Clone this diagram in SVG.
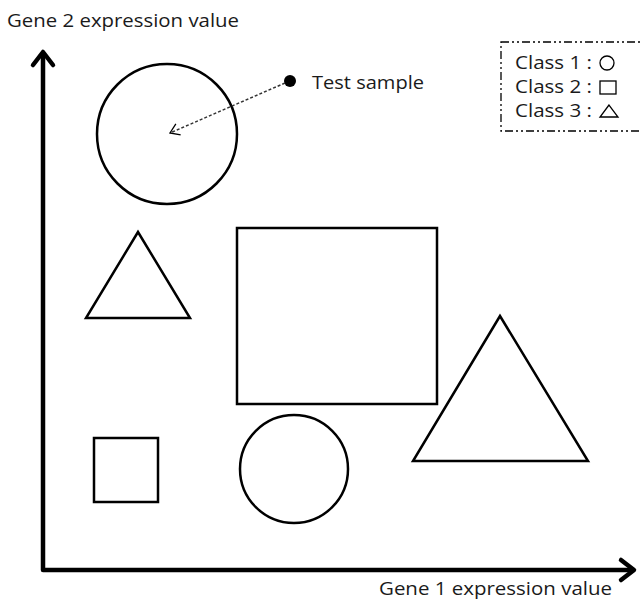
<svg xmlns="http://www.w3.org/2000/svg" width="640" height="601" viewBox="0 0 640 601">
<defs>
<style>
text{font-family:"Open Sans","Noto Sans",sans-serif;fill:#1a1a1a;font-size:19px}
.leg{font-size:17.5px}
.shape{fill:none;stroke:#000;stroke-width:2.5}
.axis{fill:none;stroke:#000;stroke-width:4.5;stroke-linecap:round;stroke-linejoin:round}
.sym{fill:none;stroke:#000;stroke-width:1.3}
</style>
<marker id="open" markerWidth="14" markerHeight="14" refX="10" refY="7" orient="auto" markerUnits="userSpaceOnUse">
<path d="M1,1 L10,7 L1,13" fill="none" stroke="#000" stroke-width="1.3"/>
</marker>
</defs>
<rect width="640" height="601" fill="#fff"/>
<g id="axes">
<path class="axis" d="M43,54 L43,570 L633,570"/>
<path class="axis" d="M33,65 L43,52 L53,65"/>
<path class="axis" d="M621,560 L634,570 L621,580"/>
<text x="7" y="27" textLength="232" lengthAdjust="spacingAndGlyphs">Gene 2 expression value</text>
<text x="379" y="595" textLength="233" lengthAdjust="spacingAndGlyphs">Gene 1 expression value</text>
</g>
<g id="circle1"><circle class="shape" cx="167" cy="134" r="70"/></g>
<g id="triangle1"><polygon class="shape" points="138,232 86,318 190,318"/></g>
<g id="square1"><rect class="shape" x="237" y="228" width="200" height="176"/></g>
<g id="triangle2"><polygon class="shape" points="500,316 413,461 588,461"/></g>
<g id="square2"><rect class="shape" x="94" y="438" width="64" height="64"/></g>
<g id="circle2"><circle class="shape" cx="294" cy="469" r="54"/></g>
<g id="test-sample">
<circle cx="290" cy="81" r="6" fill="#000"/>
<text x="312" y="89" textLength="112" lengthAdjust="spacingAndGlyphs">Test sample</text>
</g>
<g id="connectors">
<line x1="285" y1="83" x2="170" y2="133" stroke="#333" stroke-width="1.5" stroke-dasharray="3,2" marker-end="url(#open)"/>
</g>
<g id="legend">
<rect x="501" y="42" width="140" height="89" fill="none" stroke="#000" stroke-width="1.3" stroke-dasharray="8,3,2,3,2,3"/>
<text class="leg" x="515" y="69" textLength="77" lengthAdjust="spacingAndGlyphs">Class 1 :</text>
<circle class="sym" cx="607" cy="63" r="7"/>
<text class="leg" x="515" y="93" textLength="77" lengthAdjust="spacingAndGlyphs">Class 2 :</text>
<rect class="sym" x="600" y="81" width="16" height="13"/>
<text class="leg" x="515" y="117" textLength="77" lengthAdjust="spacingAndGlyphs">Class 3 :</text>
<polygon class="sym" points="609,105 600,117 618,117"/>
</g>
</svg>
